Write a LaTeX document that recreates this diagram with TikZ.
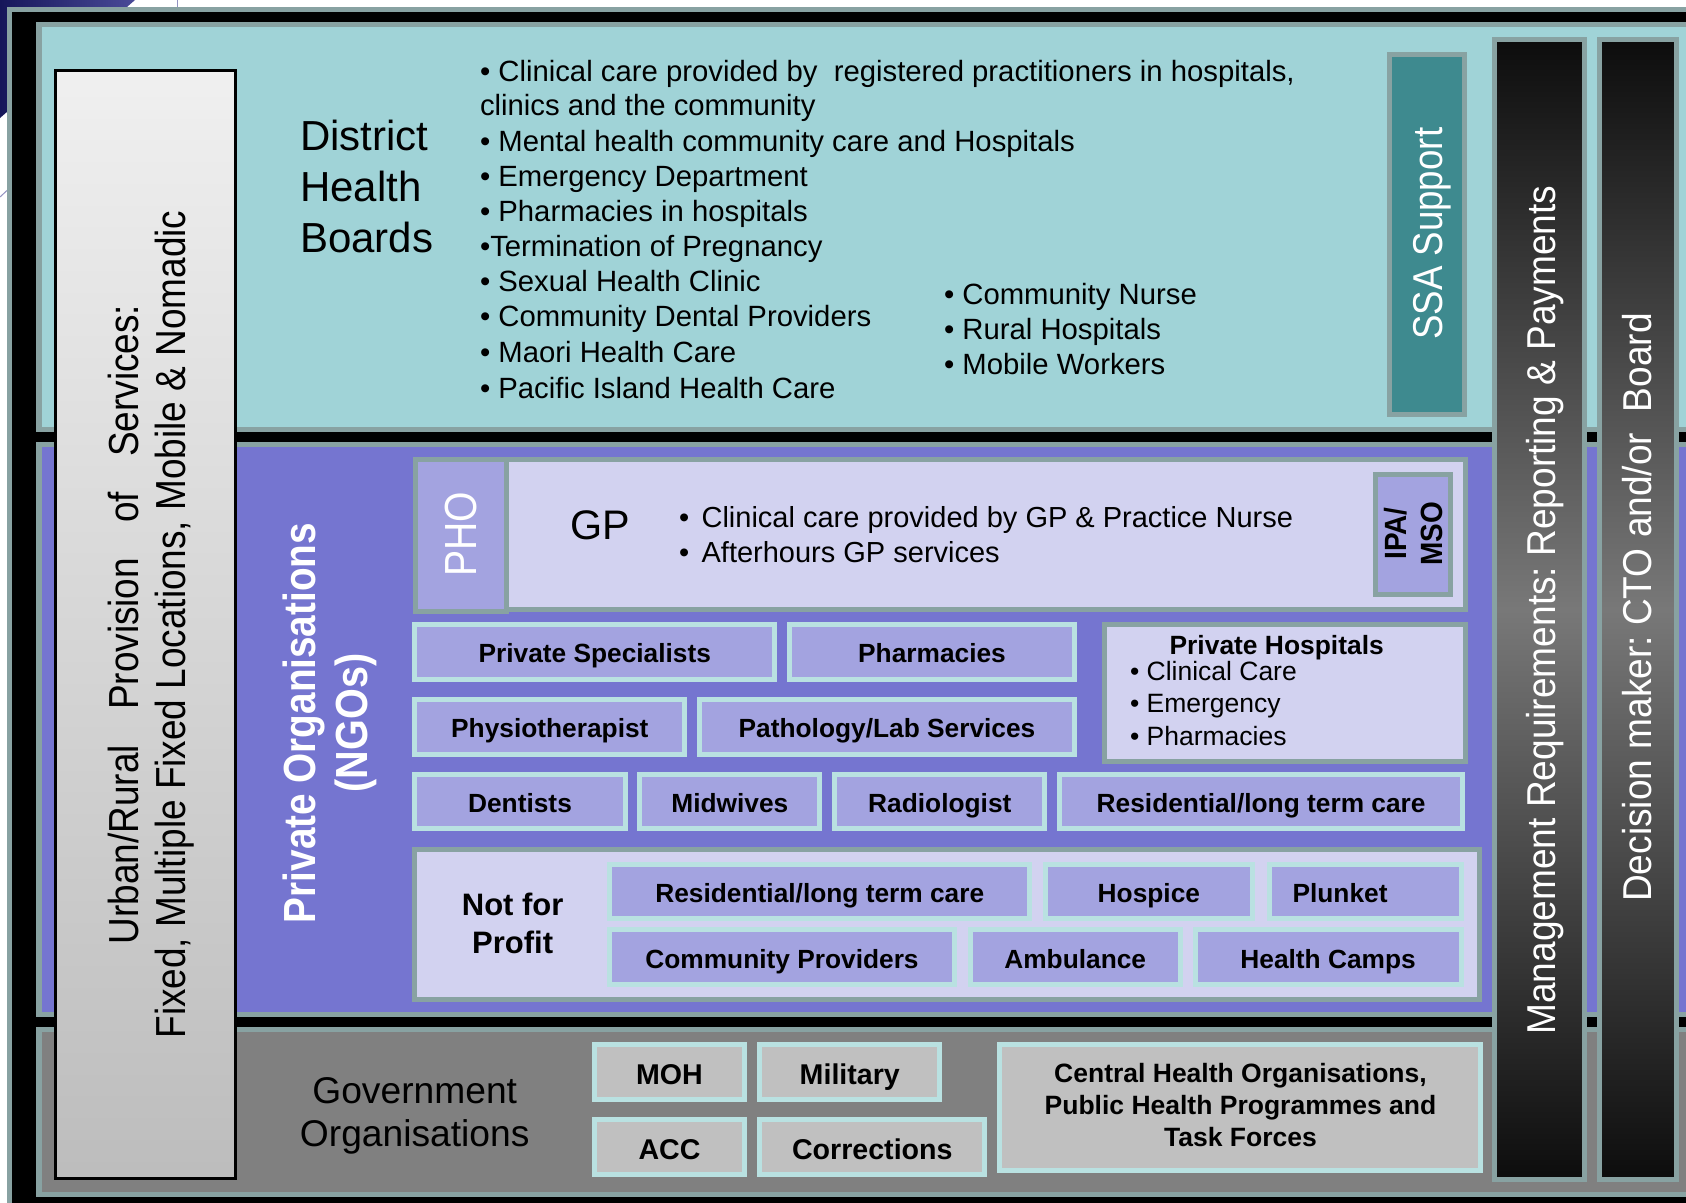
\documentclass[tikz,border=0pt]{standalone}
\usepackage{fontspec}
\setmainfont{Liberation Sans}
\usepackage{graphicx}
\frenchspacing
\definecolor{fb}{HTML}{88A2A2}
\definecolor{tealband}{HTML}{A0D3D7}
\definecolor{purpleband}{HTML}{7575D0}
\definecolor{lav}{HTML}{A3A3E0}
\definecolor{lightlav}{HTML}{D2D2F0}
\definecolor{ltteal}{HTML}{B9E1E1}
\definecolor{gband}{HTML}{808080}
\definecolor{gbox}{HTML}{C0C0C0}
\definecolor{ssa}{HTML}{3E8A8F}
\definecolor{navyA}{HTML}{16165A}
\definecolor{navyB}{HTML}{4A4A98}
\definecolor{barmid}{HTML}{787878}
\newcommand\fsz[2]{\fontsize{#1pt}{#2pt}\selectfont}
\newcommand\rsc[2]{\scalebox{#1}[1]{#2}}
\newcommand\mybox[7]{%
  \pgfmathsetmacro\bxw{#5-#3-5}%
  \pgfmathsetmacro\bxh{#6-#4-5}%
  \pgfmathsetmacro\bxcx{(#3+#5)/2}%
  \pgfmathsetmacro\bxcy{(#4+#6)/2}%
  \node[#1, minimum width=\bxw pt, minimum height=\bxh pt] (#2) at (\bxcx,\bxcy) {#7};}
\tikzset{
  every node/.style={inner sep=0pt, outer sep=0pt},
  lavbox/.style={draw=ltteal, line width=5pt, fill=lav, font=\fsz{26.3}{31}\bfseries, text height=22pt, text depth=0pt},
  greybox/.style={draw=ltteal, line width=5pt, fill=gbox, font=\fsz{28.6}{34}\bfseries, text height=25pt, text depth=0pt},
  framebox/.style={draw=fb, line width=5pt, fill=lightlav},
  medbox/.style={draw=fb, line width=5pt, fill=lav},
  ssabox/.style={draw=fb, line width=5pt, fill=ssa},
  darkbar/.style={draw=fb, line width=5pt, top color=black!95, bottom color=black!95, middle color=barmid},
  rot/.style={rotate=90, anchor=base},
  txt/.style={anchor=base west},
  ctxt/.style={anchor=base},
}
\begin{document}
\begin{tikzpicture}[x=1pt,y=-1pt]
\useasboundingbox (0,0) rectangle (1686,1202);
\clip (0,0) rectangle (1686,1202);
\fill[white] (0,0) rectangle (1686,1202);
% slide background remnants
\shade[left color=navyA, right color=navyB] (0,0) -- (135,0) -- (0,118) -- cycle;
\draw[navyB!60, line width=1pt] (0,197) -- (14,184);
\draw[navyB!60, line width=1pt] (177,0) -- (177,8);
% outer frame
\fill[fb] (7,7) rectangle (1690,1206);
\fill[black] (11.5,12) rectangle (1690,1206);
% bands
\fill[fb] (36,22) rectangle (1690,432);
\fill[tealband] (41.5,27) rectangle (1690,427);
\fill[fb] (36,442) rectangle (1690,1017);
\fill[purpleband] (41.5,447) rectangle (1690,1012);
\fill[fb] (36,1027) rectangle (1690,1197);
\fill[gband] (41.5,1032) rectangle (1690,1192);

% Urban / rural box
\node[draw=black, line width=3pt, top color=black!6, bottom color=black!26, minimum width=179.9pt, minimum height=1108pt] (urban) at (145.05,624.5) {};
\node[rot, font=\fsz{42}{50}] (u1) at (138,624.5) {\rsc{0.88}{Urban/Rural\hspace{0.95em}Provision\hspace{0.95em}of\hspace{0.95em}Services:}};
\node[rot, font=\fsz{42}{50}] (u2) at (185.6,624.5) {\rsc{0.88}{Fixed, Multiple Fixed Locations, Mobile \& Nomadic}};

% District Health Boards
\node[txt, font=\fsz{42}{50}] (dhb1) at (300,150.7) {District};
\node[txt, font=\fsz{42}{50}] (dhb2) at (300,201.7) {Health};
\node[txt, font=\fsz{42}{50}] (dhb3) at (300,252.3) {Boards};
\begin{scope}[every node/.append style={txt, font=\fsz{29.3}{35}}]
\node (t1) at (480,81) {• Clinical care provided by\ \ registered practitioners in hospitals,};
\node (t2) at (480,115) {clinics and the community};
\node (t3) at (480,151) {• Mental health community care and Hospitals};
\node (t4) at (480,186.7) {• Emergency Department};
\node (t5) at (480,221.7) {• Pharmacies in hospitals};
\node (t6) at (480,256.7) {•Termination of Pregnancy};
\node (t7) at (480,291.7) {• Sexual Health Clinic};
\node (t8) at (480,326.7) {• Community Dental Providers};
\node (t9) at (480,362.7) {• Maori Health Care};
\node (t10) at (480,398.3) {• Pacific Island Health Care};
\node (c1) at (944,304) {• Community Nurse};
\node (c2) at (944,339) {• Rural Hospitals};
\node (c3) at (944,374) {• Mobile Workers};
\end{scope}
% SSA
\mybox{ssabox}{ssa}{1387}{52}{1467}{417}{}
\node[rot, text=white, font=\fsz{41.7}{50}] (ssaT) at (1442.7,233.8) {\rsc{0.88}{SSA Support}};

% Private organisations
\node[rot, text=white, font=\fsz{45}{54}\bfseries] (po1) at (315.7,723) {\rsc{0.86}{Private Organisations}};
\node[rot, text=white, font=\fsz{45}{54}\bfseries] (po2) at (367.4,723) {\rsc{0.88}{(NGOs)}};

% GP / PHO / IPA
\mybox{framebox}{gp}{503}{457}{1467.7}{611.5}{}
\mybox{medbox}{pho}{412.6}{457}{508.7}{614}{}
\node[rot, text=white, font=\fsz{45}{54}] (phoT) at (476.5,534.2) {\rsc{0.87}{PHO}};
\mybox{medbox}{ipa}{1372.7}{471.7}{1452.7}{596.7}{}
\node[rot, font=\fsz{30.7}{36}\bfseries] (ipa1) at (1406,533.5) {\rsc{0.91}{IPA/}};
\node[rot, font=\fsz{30.7}{36}\bfseries] (ipa2) at (1442.7,533.5) {\rsc{0.91}{MSO}};
\node[txt, font=\fsz{41.3}{50}] (gpT) at (570.5,539.3) {GP};
\node[txt, font=\fsz{29}{35}] (g1b) at (679,527.3) {•};
\node[txt, font=\fsz{29}{35}] (g1) at (701.6,527.3) {Clinical care provided by GP \& Practice Nurse};
\node[txt, font=\fsz{29}{35}] (g2b) at (679,562.7) {•};
\node[txt, font=\fsz{29}{35}] (g2) at (701.6,562.7) {Afterhours GP services};

% provider rows
\mybox{lavbox}{ps}{412.3}{621.7}{777.3}{681.7}{Private Specialists}
\mybox{lavbox}{pharm}{786.7}{621.7}{1077.3}{681.7}{Pharmacies}
\mybox{framebox}{phosp}{1102.3}{621.7}{1467.7}{764}{}
\node[ctxt, font=\fsz{26.4}{31}\bfseries] (phT) at (1276.7,654.3) {Private Hospitals};
\node[txt, font=\fsz{26.5}{31}] (ph1) at (1130,680.7) {• Clinical Care};
\node[txt, font=\fsz{26.5}{31}] (ph2) at (1130,712.3) {• Emergency};
\node[txt, font=\fsz{26.5}{31}] (ph3) at (1130,745) {• Pharmacies};
\mybox{lavbox}{physio}{412.3}{696.7}{687.3}{756.7}{Physiotherapist}
\mybox{lavbox}{path}{696.7}{696.7}{1077.3}{756.7}{Pathology/Lab Services}
\mybox{lavbox}{dent}{412.3}{771.7}{627.7}{831}{Dentists}
\mybox{lavbox}{mid}{637.3}{771.7}{822.3}{831}{Midwives}
\mybox{lavbox}{rad}{832.3}{771.7}{1047.3}{831}{Radiologist}
\mybox{lavbox}{res}{1057.3}{771.7}{1465}{831}{Residential/long term care}

% not for profit
\mybox{framebox}{nfp}{412.3}{847.3}{1482}{1001.7}{}
\node[ctxt, font=\fsz{31}{38}\bfseries] (nfp1) at (512.7,915) {Not for};
\node[ctxt, font=\fsz{31}{38}\bfseries] (nfp2) at (512.7,953.3) {Profit};
\mybox{lavbox}{nres}{607.3}{862.3}{1032.3}{920.7}{Residential/long term care}
\mybox{lavbox}{hosp}{1042.7}{862.3}{1255}{920.7}{Hospice}
\mybox{lavbox}{plk}{1267.3}{862.3}{1463.5}{920.7}{}
\node[ctxt, font=\fsz{26.3}{31}\bfseries] (plkT) at (1340,902.8) {Plunket};
\mybox{lavbox}{cp}{607.3}{927.3}{956.7}{986.7}{Community Providers}
\mybox{lavbox}{amb}{967.7}{927.3}{1182.7}{986.7}{Ambulance}
\mybox{lavbox}{hc}{1192.7}{927.3}{1463.5}{986.7}{Health Camps}

% government
\node[ctxt, font=\fsz{37.2}{43}] (gov1) at (414.7,1103.3) {Government};
\node[ctxt, font=\fsz{37.2}{43}] (gov2) at (414.7,1146) {Organisations};
\mybox{greybox}{moh}{591.7}{1041.7}{747.3}{1101.7}{MOH}
\mybox{greybox}{mil}{757.3}{1041.7}{942.3}{1101.7}{Military}
\mybox{greybox}{acc}{591.7}{1116.7}{747.3}{1176.7}{ACC}
\mybox{greybox}{cor}{757.3}{1116.7}{987.3}{1176.7}{Corrections}
\mybox{greybox}{cho}{997.3}{1041.7}{1482.5}{1172.7}{}
\node[ctxt, font=\fsz{26.5}{32}\bfseries] (cho1) at (1240.5,1082.7) {Central Health Organisations,};
\node[ctxt, font=\fsz{26.5}{32}\bfseries] (cho2) at (1240.5,1114.3) {Public Health Programmes and};
\node[ctxt, font=\fsz{26.5}{32}\bfseries] (cho3) at (1240.5,1146.7) {Task Forces};

% right-hand bars
\mybox{darkbar}{mgmt}{1492}{37}{1587}{1182}{}
\node[rot, text=white, font=\fsz{40.3}{48}] (mgT) at (1555,610) {\rsc{0.92}{Management Requirements: Reporting \& Payments}};
\mybox{darkbar}{dec}{1597}{37}{1679}{1182}{}
\node[rot, text=white, font=\fsz{40.3}{48}] (dmT) at (1651.7,607.5) {\rsc{0.92}{Decision maker: CTO and/or\ \ Board}};
\end{tikzpicture}
\end{document}
